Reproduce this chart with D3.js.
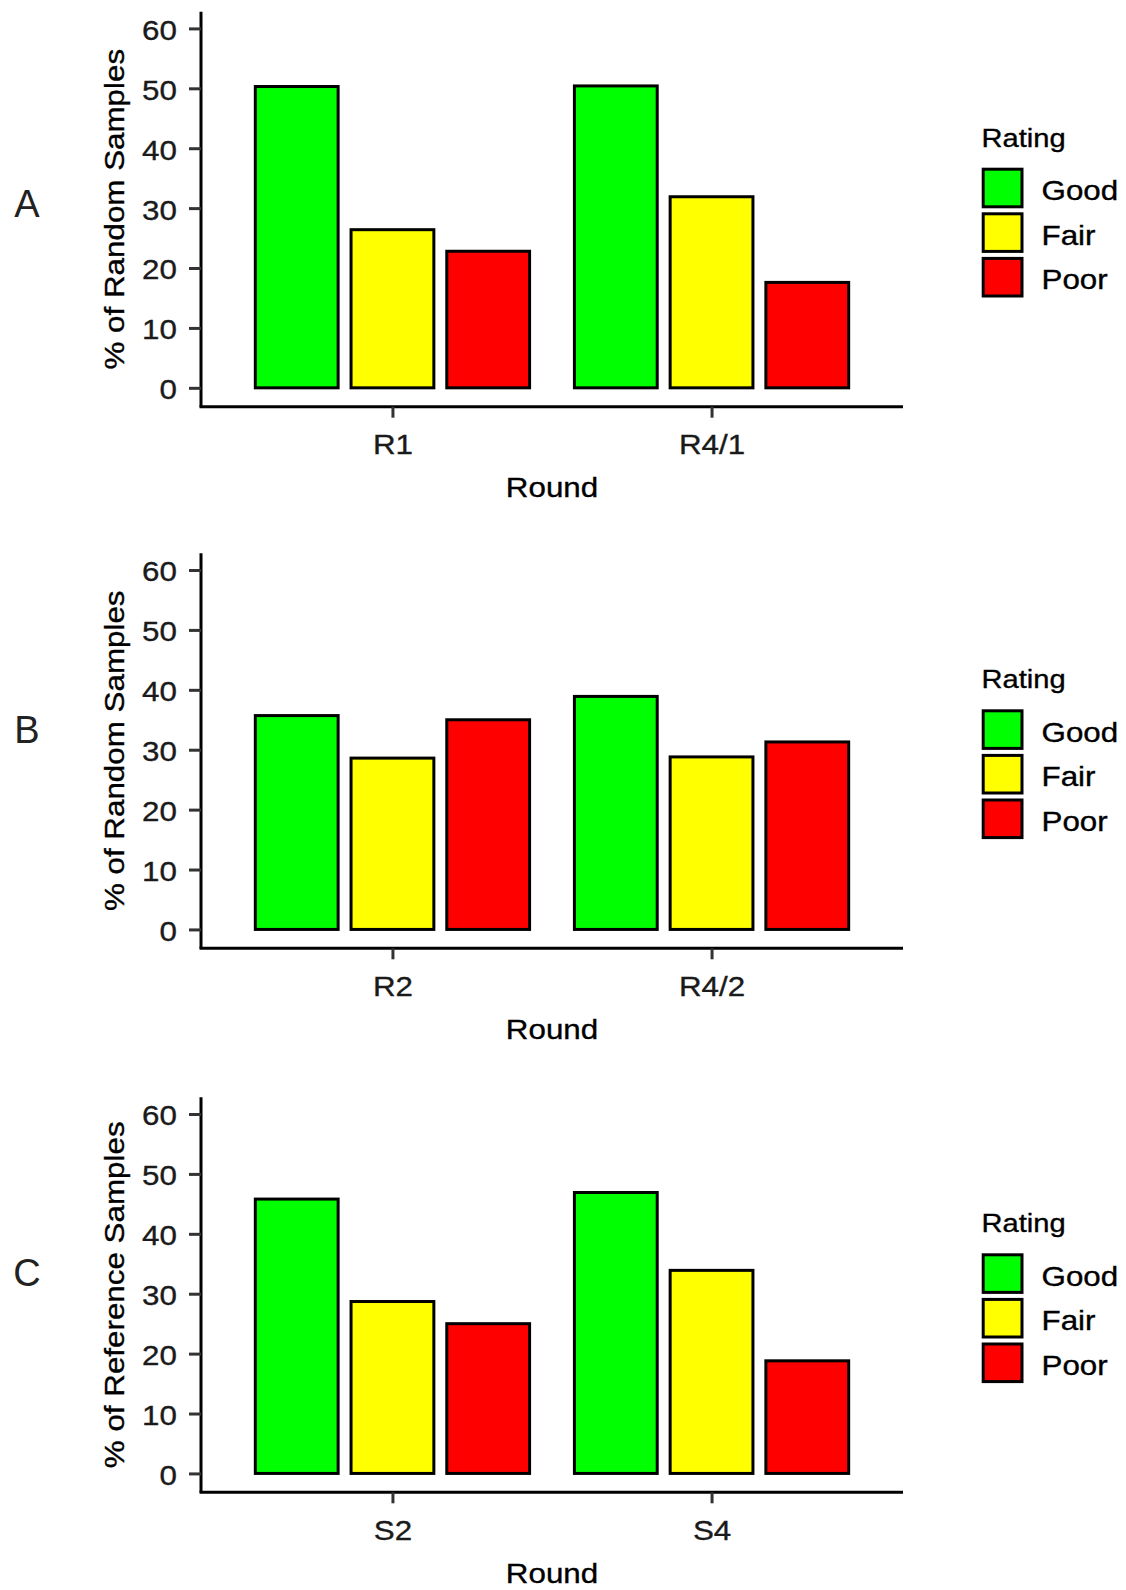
<!DOCTYPE html>
<html>
<head>
<meta charset="utf-8">
<script src="https://cdn.jsdelivr.net/npm/d3@7"></script>
<style>
  html, body { margin: 0; padding: 0; background: #ffffff; }
  svg { display: block; }
  text { font-family: Arial, "Liberation Sans", sans-serif; }
  .txt { stroke: currentColor; stroke-width: 0.35px; }
</style>
</head>
<body>
<svg id="chart" width="1126" height="1590"></svg>
<script>
// Rating categories and their fills
const ratings = ["Good", "Fair", "Poor"];
const ratingColors = ["#00ff00", "#ffff00", "#ff0000"];

// One panel per comparison
const panelLetters = ["A", "B", "C"];
const yTitles = ["% of Random Samples", "% of Random Samples", "% of Reference Samples"];
const roundsA = ["R1", "R4/1"];
const roundsB = ["R2", "R4/2"];
const roundsC = ["S2", "S4"];

// Percentages per rating, one value per round
const goodA = [50.3, 50.4];
const fairA = [26.4, 31.9];
const poorA = [22.8, 17.6];

const goodB = [35.7, 38.9];
const fairB = [28.6, 28.8];
const poorB = [35.0, 31.3];

const goodC = [45.8, 46.9];
const fairC = [28.7, 33.9];
const poorC = [25.0, 18.8];

const yTicks = [0, 10, 20, 30, 40, 50, 60];
const xTitle = "Round";
const legendTitle = "Rating";

const panels = [
  { letter: panelLetters[0], yTitle: yTitles[0], rounds: roundsA, series: [goodA, fairA, poorA] },
  { letter: panelLetters[1], yTitle: yTitles[1], rounds: roundsB, series: [goodB, fairB, poorB] },
  { letter: panelLetters[2], yTitle: yTitles[2], rounds: roundsC, series: [goodC, fairC, poorC] }
];

// Layout
const svg = d3.select("#chart");
const panelOffsets = [0, 541.6, 1085.6];
const letterY = [204, 730, 1273];
const plotLeft = 201, plotRight = 903;
const plotTop = 11.7, plotHeight = 395;
const textStretch = 1.12;
const fontSize = 28;

const color = d3.scaleOrdinal().domain(ratings).range(ratingColors);

panels.forEach((p, pi) => {
  const off = panelOffsets[pi];
  const g = svg.append("g").attr("transform", `translate(0,${off})`);

  const x = d3.scalePoint().domain(p.rounds).range([plotLeft, plotRight]).padding(0.6);
  const step = x.step();
  const inner = d3.scaleBand().domain(ratings).range([-0.45 * step, 0.45 * step]);
  const barW = inner.bandwidth() * 0.865;

  const y = d3.scaleLinear().domain([-3.15, 62.79]).range([plotTop + plotHeight, plotTop]);

  // bars
  const rows = [];
  p.rounds.forEach((r, ri) => {
    ratings.forEach((rt, k) => rows.push({ round: r, rating: rt, value: p.series[k][ri] }));
  });
  g.append("g").selectAll("rect").data(rows).join("rect")
    .attr("x", d => x(d.round) + inner(d.rating) + (inner.bandwidth() - barW) / 2)
    .attr("width", barW)
    .attr("y", d => y(d.value))
    .attr("height", d => y(0) - y(d.value))
    .attr("fill", d => color(d.rating))
    .attr("stroke", "#000")
    .attr("stroke-width", 3);

  // y axis
  const yAxis = g.append("g").attr("transform", `translate(${plotLeft},0)`)
    .call(d3.axisLeft(y).tickValues(yTicks).tickSize(12).tickPadding(0).tickFormat(d3.format("d")));
  yAxis.select(".domain").attr("d", `M0,${plotTop}V${plotTop + plotHeight}`).attr("stroke", "#000").attr("stroke-width", 3);
  yAxis.selectAll(".tick line").attr("stroke", "#333").attr("stroke-width", 3);
  yAxis.selectAll(".tick text")
    .attr("x", null).attr("dy", null)
    .attr("class", "txt")
    .attr("font-size", fontSize).attr("fill", "#1a1a1a").style("color", "#1a1a1a")
    .attr("text-anchor", "end").attr("dominant-baseline", "central")
    .attr("transform", `translate(-24,1) scale(${textStretch},1)`);

  // x axis
  const xAxis = g.append("g").attr("transform", `translate(0,${plotTop + plotHeight})`)
    .call(d3.axisBottom(x).tickSize(11).tickPadding(0));
  xAxis.select(".domain").attr("d", `M${plotLeft - 1.5},0H${plotRight}`).attr("stroke", "#000").attr("stroke-width", 3);
  xAxis.selectAll(".tick line").attr("stroke", "#333").attr("stroke-width", 3);
  xAxis.selectAll(".tick text")
    .attr("y", null).attr("dy", null)
    .attr("class", "txt")
    .attr("font-size", fontSize).attr("fill", "#1a1a1a").style("color", "#1a1a1a")
    .attr("text-anchor", "middle")
    .attr("transform", `translate(0,47.3) scale(${textStretch},1)`);

  // axis titles
  g.append("text").attr("class", "txt").style("color", "#000")
    .attr("transform", `translate(${(plotLeft + plotRight) / 2},497.3) scale(${textStretch},1)`)
    .attr("text-anchor", "middle").attr("font-size", fontSize).attr("fill", "#000")
    .text(xTitle);
  g.append("text").attr("class", "txt").style("color", "#000")
    .attr("transform", `translate(124,${plotTop + plotHeight / 2}) rotate(-90) scale(${textStretch},1)`)
    .attr("text-anchor", "middle").attr("font-size", fontSize).attr("fill", "#000")
    .text(p.yTitle);

  // legend
  const lg = g.append("g");
  lg.append("text").attr("class", "txt").style("color", "#000")
    .attr("x", 981.5).attr("y", 146.7)
    .attr("font-size", 26).attr("fill", "#000")
    .attr("transform", `translate(${981.5 * (1 - textStretch)},0) scale(${textStretch},1)`)
    .text(legendTitle);
  ratings.forEach((rt, k) => {
    const ky = 169.2 + k * 44.6;
    lg.append("rect").attr("x", 983.2).attr("y", ky).attr("width", 38.8).attr("height", 37.6)
      .attr("fill", color(rt)).attr("stroke", "#000").attr("stroke-width", 3);
    lg.append("text").attr("class", "txt").style("color", "#000")
      .attr("transform", `translate(1041.5,${ky + 21}) scale(${textStretch},1)`)
      .attr("dominant-baseline", "central")
      .attr("font-size", fontSize).attr("fill", "#000")
      .text(rt);
  });

  // panel letter
  svg.append("text").attr("x", 27).attr("y", letterY[pi])
    .attr("text-anchor", "middle").attr("dominant-baseline", "central")
    .attr("font-family", "Lato, 'Open Sans', sans-serif").attr("font-weight", 300)
    .attr("font-size", 38).attr("fill", "#222")
    .text(p.letter);
});
</script>
</body>
</html>
